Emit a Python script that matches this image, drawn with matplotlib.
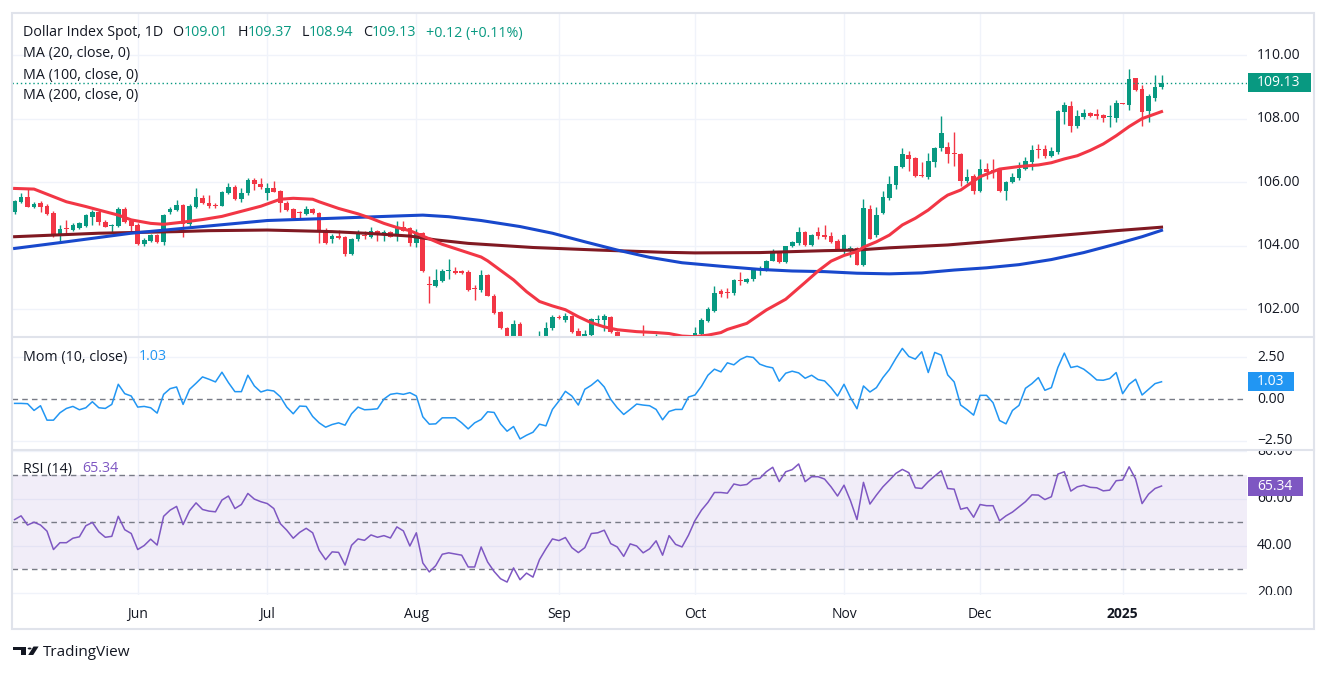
import matplotlib
matplotlib.use("Agg")
import matplotlib.pyplot as plt
from matplotlib.patches import Rectangle, Polygon, Circle
import numpy as np
import pandas as pd

plt.rcParams["font.family"] = ["Open Sans", "DejaVu Sans"]

# ---- Dollar Index Spot, daily bars ----
first_day = "2024-05-07"
last_day = "2025-01-09"

opens = [
    105.07, 105.38, 105.54, 105.23, 105.33, 105.25, 105.04, 104.31, 104.53, 104.49,
    104.56, 104.63, 104.91, 105.07, 104.75, 104.63, 104.63, 105.15, 104.79, 104.65,
    104.05, 104.14, 104.33, 104.12, 105.07, 105.12, 105.28, 104.67, 105.23, 105.51,
    105.33, 105.28, 105.26, 105.67, 105.86, 105.47, 105.65, 106.07, 105.95, 105.67,
    105.80, 105.72, 105.35, 105.14, 105.07, 104.99, 105.14, 105.02, 104.44, 104.20,
    104.30, 104.27, 103.74, 104.20, 104.34, 104.28, 104.46, 104.39, 104.42, 104.30,
    104.58, 104.54, 104.07, 104.39, 102.80, 102.74, 102.89, 103.20, 103.21, 103.19,
    103.18, 102.63, 102.60, 103.07, 102.42, 101.90, 101.40, 101.10, 101.53, 100.70,
    100.85, 100.55, 101.10, 101.39, 101.73, 101.66, 101.78, 101.31, 101.10, 101.18,
    101.67, 101.66, 101.74, 101.29, 101.10, 100.79, 100.95, 100.90, 100.72, 100.78,
    101.00, 100.45, 100.95, 100.60, 100.42, 100.80, 101.21, 101.63, 101.95, 102.57,
    102.53, 102.50, 102.91, 102.86, 102.94, 103.28, 103.23, 103.53, 103.81, 103.49,
    104.00, 104.07, 104.42, 104.02, 104.42, 104.33, 104.30, 104.14, 103.88, 103.89,
    103.91, 103.39, 105.15, 104.33, 105.02, 105.49, 105.91, 106.49, 106.85, 106.75,
    106.21, 106.17, 106.64, 107.06, 107.11, 106.93, 106.88, 106.04, 106.19, 105.72,
    106.41, 106.38, 106.39, 105.72, 106.01, 106.14, 106.40, 106.64, 107.03, 107.03,
    106.83, 106.96, 108.22, 108.40, 107.78, 108.06, 108.17, 108.15, 108.11, 108.04,
    108.03, 108.48, 108.43, 109.27, 108.93, 108.24, 108.66, 109.01,
]
highs = [
    105.45, 105.65, 105.80, 105.38, 105.40, 105.30, 105.10, 104.65, 104.80, 104.70,
    104.74, 105.00, 105.12, 105.12, 104.80, 104.68, 105.20, 105.21, 104.82, 104.70,
    104.25, 104.38, 104.38, 105.00, 105.20, 105.44, 105.32, 105.30, 105.80, 105.58,
    105.59, 105.33, 105.72, 105.96, 105.90, 105.80, 106.13, 106.12, 106.12, 105.98,
    106.05, 105.75, 105.40, 105.18, 105.08, 105.25, 105.18, 105.05, 104.54, 104.38,
    104.49, 104.30, 104.25, 104.48, 104.46, 104.57, 104.50, 104.49, 104.46, 104.78,
    104.79, 104.57, 104.51, 104.44, 103.04, 103.26, 103.25, 103.57, 103.34, 103.22,
    103.22, 102.76, 103.24, 103.10, 102.48, 101.95, 101.45, 101.66, 101.58, 100.95,
    100.95, 101.30, 101.58, 101.80, 101.80, 101.87, 101.82, 101.42, 101.34, 101.73,
    101.81, 101.85, 101.78, 101.32, 101.15, 101.05, 101.05, 101.50, 100.85, 101.22,
    101.05, 101.00, 101.00, 100.70, 100.85, 101.43, 101.73, 102.07, 102.73, 102.63,
    102.65, 102.95, 103.18, 102.98, 103.30, 103.37, 103.56, 103.89, 103.84, 104.00,
    104.14, 104.59, 104.46, 104.38, 104.59, 104.65, 104.44, 104.22, 104.35, 103.99,
    103.95, 105.47, 105.28, 105.21, 105.73, 106.19, 106.52, 107.08, 106.99, 106.79,
    106.64, 106.93, 107.10, 108.07, 107.25, 107.59, 106.92, 106.41, 106.24, 106.72,
    106.59, 106.73, 106.42, 106.05, 106.28, 106.64, 106.80, 107.17, 107.20, 107.17,
    107.11, 108.26, 108.51, 108.55, 108.27, 108.30, 108.20, 108.30, 108.15, 108.43,
    108.58, 108.50, 109.56, 109.29, 109.06, 108.76, 109.37, 109.37,
]
lows = [
    105.00, 105.35, 105.20, 105.17, 105.07, 104.95, 104.28, 104.12, 104.39, 104.45,
    104.52, 104.60, 104.65, 104.65, 104.58, 104.39, 104.60, 104.70, 104.39, 104.02,
    103.98, 104.10, 104.08, 104.02, 105.00, 105.10, 104.28, 104.62, 105.18, 105.30,
    105.17, 105.18, 105.24, 105.62, 105.45, 105.38, 105.60, 105.75, 105.77, 105.44,
    105.68, 105.07, 105.08, 104.86, 104.83, 104.95, 105.00, 104.09, 104.06, 104.07,
    104.20, 103.66, 103.69, 104.15, 104.20, 104.25, 104.13, 104.15, 104.26, 104.15,
    104.45, 103.98, 103.97, 103.18, 102.20, 102.70, 102.85, 102.95, 103.10, 103.10,
    102.58, 102.29, 102.55, 102.40, 101.85, 101.38, 100.95, 101.05, 100.60, 100.55,
    100.45, 100.50, 101.00, 101.33, 101.68, 101.60, 101.25, 100.95, 100.90, 101.10,
    101.52, 101.32, 101.25, 100.98, 100.70, 100.70, 100.22, 100.50, 100.40, 100.70,
    100.35, 100.40, 100.50, 100.18, 100.15, 100.70, 101.15, 101.60, 101.90, 102.39,
    102.34, 102.45, 102.76, 102.82, 102.90, 103.07, 103.19, 103.50, 103.45, 103.46,
    103.96, 104.03, 104.00, 103.99, 104.20, 104.22, 104.08, 103.86, 103.70, 103.65,
    103.38, 103.36, 104.20, 104.28, 104.98, 105.45, 105.77, 106.44, 106.36, 106.16,
    106.15, 106.10, 106.48, 106.98, 106.61, 106.52, 105.88, 105.98, 105.63, 105.70,
    106.10, 106.12, 105.70, 105.45, 105.98, 106.08, 106.37, 106.38, 106.75, 106.77,
    106.80, 106.90, 107.83, 107.59, 107.71, 108.00, 108.05, 108.00, 107.88, 107.75,
    107.88, 108.46, 108.27, 108.88, 107.78, 107.90, 108.55, 108.94,
]
closes = [
    105.40, 105.53, 105.23, 105.31, 105.23, 104.99, 104.31, 104.51, 104.51, 104.65,
    104.70, 104.96, 105.07, 104.75, 104.60, 104.65, 105.15, 104.75, 104.63, 104.05,
    104.18, 104.33, 104.12, 104.96, 105.14, 105.28, 104.67, 105.26, 105.54, 105.33,
    105.26, 105.26, 105.68, 105.86, 105.47, 105.65, 106.07, 105.93, 105.86, 105.80,
    105.70, 105.35, 105.12, 104.88, 105.04, 105.14, 105.02, 104.42, 104.09, 104.30,
    104.25, 103.74, 104.21, 104.39, 104.31, 104.46, 104.34, 104.44, 104.28, 104.58,
    104.47, 104.07, 104.39, 103.20, 102.77, 102.92, 103.20, 103.22, 103.15, 103.15,
    102.60, 102.62, 103.07, 102.42, 101.87, 101.39, 101.10, 101.53, 100.72, 100.85,
    100.55, 101.10, 101.41, 101.76, 101.71, 101.78, 101.29, 101.10, 101.22, 101.69,
    101.70, 101.78, 101.29, 101.10, 100.79, 100.98, 100.90, 100.72, 100.78, 101.00,
    100.45, 100.95, 100.60, 100.42, 100.78, 101.24, 101.66, 101.99, 102.50, 102.48,
    102.50, 102.92, 102.87, 102.94, 103.28, 103.30, 103.53, 103.81, 103.47, 103.99,
    104.12, 104.42, 104.02, 104.33, 104.31, 104.28, 104.12, 103.88, 104.33, 103.92,
    103.39, 105.17, 104.21, 104.96, 105.52, 105.93, 106.51, 106.88, 106.73, 106.19,
    106.19, 106.66, 107.06, 107.56, 106.87, 106.87, 106.05, 106.17, 105.72, 106.41,
    106.33, 106.35, 105.72, 106.01, 106.15, 106.41, 106.66, 107.01, 107.00, 106.83,
    106.98, 108.24, 108.43, 107.78, 108.08, 108.19, 108.08, 108.08, 108.01, 108.06,
    108.48, 108.47, 109.25, 108.90, 108.22, 108.71, 109.01, 109.13,
]

# moving averages, read at bar indices
ma20_idx = [0, 3, 5, 8, 11, 13, 16, 18, 21, 23, 26, 29, 32, 35, 38, 41, 43, 46, 47,
            50, 53, 55, 57, 59, 61, 63, 66, 69, 72, 73, 75, 77, 79, 81, 83, 85, 87,
            89, 91, 93, 96, 99, 101, 103, 105, 107, 109, 110, 113, 116, 119, 122,
            124, 126, 128, 130, 131, 133, 135, 137, 139, 141, 143, 144, 146, 149,
            152, 155, 158, 160, 162, 164, 166, 168, 170, 172, 174, 177]
ma20_val = [105.80, 105.78, 105.62, 105.38, 105.23, 105.12, 104.96, 104.81, 104.70,
            104.67, 104.74, 104.82, 104.92, 105.08, 105.24, 105.46, 105.49, 105.46,
            105.38, 105.17, 105.00, 104.86, 104.70, 104.57, 104.47, 104.30, 104.04,
            103.84, 103.64, 103.52, 103.22, 102.92, 102.55, 102.24, 102.10, 101.98,
            101.76, 101.57, 101.44, 101.35, 101.29, 101.26, 101.23, 101.15, 101.13,
            101.18, 101.26, 101.36, 101.55, 101.97, 102.31, 102.84, 103.20, 103.51,
            103.69, 103.81, 103.95, 104.12, 104.33, 104.65, 104.86, 105.12, 105.45,
            105.59, 105.75, 106.17, 106.41, 106.49, 106.54, 106.61, 106.73, 106.83,
            107.00, 107.20, 107.46, 107.75, 108.00, 108.22]
ma100_idx = [0, 8, 18, 29, 39, 49, 60, 63, 67, 72, 78, 83, 88, 93, 98, 103, 109, 115,
             120, 125, 130, 135, 140, 145, 150, 155, 160, 165, 170, 174, 177]
ma100_val = [103.91, 104.12, 104.39, 104.60, 104.79, 104.86, 104.94, 104.96, 104.91,
             104.79, 104.60, 104.39, 104.12, 103.86, 103.63, 103.46, 103.35, 103.25,
             103.20, 103.18, 103.13, 103.11, 103.14, 103.23, 103.30, 103.40, 103.56,
             103.78, 104.05, 104.28, 104.48]
ma200_idx = [0, 13, 25, 30, 39, 49, 55, 61, 65, 70, 80, 90, 100, 105, 115, 125, 130,
             135, 144, 150, 157, 163, 170, 177]
ma200_val = [104.28, 104.39, 104.44, 104.47, 104.49, 104.44, 104.38, 104.30, 104.18,
             104.07, 103.94, 103.86, 103.79, 103.77, 103.78, 103.84, 103.86, 103.93,
             104.02, 104.12, 104.25, 104.35, 104.47, 104.58]

mom10 = [
    -0.26, -0.26, -0.28, -0.68, -0.40, -1.26, -1.26, -0.82, -0.56, -0.44,
    -0.64, -0.52, -0.16, -0.52, -0.56, -0.32, 0.88, 0.32, 0.18, -0.48,
    -0.44, -0.52, -0.84, 0.28, 0.62, 0.72, -0.32, 0.58, 0.94, 1.32,
    1.18, 1.02, 1.60, 0.98, 0.44, 0.44, 1.42, 0.78, 0.42, 0.54,
    0.48, 0.14, -0.48, -0.88, -0.42, -0.44, -1.04, -1.42, -1.68, -1.52,
    -1.42, -1.56, -0.88, -0.48, -0.64, -0.62, -0.58, 0.00, 0.28, 0.34,
    0.28, 0.38, 0.18, -1.06, -1.50, -1.48, -1.12, -1.12, -1.12, -1.42,
    -1.78, -1.42, -1.22, -0.76, -0.80, -1.48, -1.92, -1.64, -2.38, -2.16,
    -1.98, -1.50, -1.60, -0.62, -0.12, 0.46, 0.18, -0.36, 0.58, 0.82,
    1.14, 0.72, -0.02, -0.52, -0.92, -0.62, -0.30, -0.36, -0.40, -0.62,
    -1.24, -0.74, -0.62, -0.62, 0.12, 0.24, 0.76, 1.42, 1.78, 1.62,
    2.16, 2.04, 2.36, 2.54, 2.48, 2.08, 1.94, 1.86, 1.06, 1.54,
    1.66, 1.56, 1.24, 1.42, 1.16, 1.08, 0.68, 0.18, 0.88, 0.08,
    -0.58, 0.78, 0.42, 0.68, 1.28, 1.76, 2.42, 3.02, 2.54, 2.38,
    2.82, 1.58, 2.78, 2.62, 1.44, 1.02, -0.36, -0.64, -0.96, 0.22,
    0.22, -0.22, -1.28, -1.48, -0.68, -0.38, 0.64, 0.92, 1.28, 0.52,
    0.68, 1.88, 2.74, 1.88, 1.96, 1.78, 1.48, 1.14, 1.12, 1.22,
    1.58, 0.32, 0.88, 1.18, 0.24, 0.58, 0.92, 1.03,
]
rsi14 = [
    51.1, 52.7, 48.8, 50.0, 48.8, 46.2, 38.4, 41.3, 41.3, 43.2,
    43.8, 48.5, 49.9, 45.9, 43.6, 44.0, 52.5, 46.8, 45.2, 38.4,
    40.1, 42.8, 40.3, 52.5, 55.1, 56.7, 49.0, 54.8, 58.2, 55.4,
    54.7, 54.4, 59.4, 61.1, 55.8, 57.5, 62.2, 59.8, 58.7, 57.9,
    55.8, 49.4, 46.6, 43.2, 45.7, 47.4, 45.5, 38.1, 34.1, 37.4,
    37.2, 31.8, 40.2, 42.9, 42.3, 44.6, 43.6, 44.3, 43.3, 48.0,
    46.3, 39.9, 45.5, 32.7, 28.9, 31.6, 36.4, 37.0, 36.5, 36.0,
    31.0, 31.0, 39.5, 33.1, 29.1, 26.0, 24.6, 30.6, 25.6, 28.4,
    26.7, 34.1, 38.7, 42.9, 42.2, 43.5, 39.2, 37.1, 39.2, 45.2,
    45.5, 46.6, 40.9, 39.5, 35.5, 40.8, 39.9, 37.0, 38.7, 42.1,
    36.0, 44.3, 40.6, 39.5, 44.5, 50.7, 55.1, 58.4, 62.6, 62.6,
    62.3, 66.2, 65.6, 66.0, 68.3, 68.6, 71.4, 73.3, 67.2, 71.4,
    72.3, 74.7, 67.2, 69.3, 69.3, 68.3, 65.0, 61.1, 65.7, 59.1,
    51.1, 66.9, 57.7, 61.5, 65.0, 67.8, 70.7, 72.4, 71.0, 64.6,
    64.3, 67.2, 69.6, 71.8, 64.3, 64.0, 55.5, 56.2, 52.1, 57.5,
    57.0, 57.0, 50.6, 52.7, 54.3, 56.5, 58.7, 61.6, 61.5, 59.6,
    60.8, 70.4, 71.4, 63.2, 65.0, 65.7, 64.8, 64.6, 63.3, 63.6,
    67.6, 67.9, 73.5, 68.3, 57.9, 61.9, 64.3, 65.34,
]

price_ticks = [110, 108, 106, 104, 102]
mom_ticks = [2.5, -2.5]
rsi_ticks = [80, 60, 40, 20]
rsi_levels = [70, 50, 30]

GREEN = "#089981"
RED = "#F23645"
TEXT = "#131722"
GRID = "#F0F3FA"
BORDER = "#E0E3EB"
DASH = "#787B86"
MOM_C = "#2196F3"
RSI_C = "#7E57C2"

W, H = 1327, 674
fig = plt.figure(figsize=(W / 100, H / 100), dpi=100)


def rect(x0, y0, x1, y1):
    # pixel box (top-left origin) -> figure fraction
    return [x0 / W, 1 - y1 / H, (x1 - x0) / W, (y1 - y0) / H]


PLOT_L, PLOT_R, SCALE_R = 12, 1247, 1314
rows = {"main": (13, 337), "mom": (337, 450), "rsi": (450, 595)}
ylims = {"main": (101.121, 111.326), "mom": (-3.04, 3.70), "rsi": (19.11, 80.63)}
xlim = (-0.40, 190.19)

days = pd.bdate_range(first_day, last_day)
x = np.arange(len(closes))
month_pos = [i for i in range(1, len(days)) if days[i].month != days[i - 1].month]
month_lab = [str(days[i].year) if days[i].month == 1 else days[i].strftime("%b") for i in month_pos]

axes = {}
scales = {}
for name, (y0, y1) in rows.items():
    ax = fig.add_axes(rect(PLOT_L, y0, PLOT_R, y1))
    ax.set_xlim(xlim)
    ax.set_ylim(ylims[name])
    for s in ax.spines.values():
        s.set_visible(False)
    ax.tick_params(left=False, labelleft=False, bottom=False, labelbottom=False)
    for p in month_pos:
        ax.axvline(p, color=GRID, lw=1, zorder=0)
    axes[name] = ax
    sc = fig.add_axes(rect(PLOT_R, y0, SCALE_R, y1))
    sc.set_xlim(PLOT_R, SCALE_R)
    sc.set_ylim(ylims[name])
    sc.axis("off")
    scales[name] = sc

main, mom, rsi = axes["main"], axes["mom"], axes["rsi"]

# ---- price panel ----
for t in price_ticks:
    main.axhline(t, color=GRID, lw=1, zorder=0)
o = np.array(opens)
c = np.array(closes)
cols = np.where(c >= o, GREEN, RED)
main.vlines(x, lows, highs, colors=cols, lw=1, zorder=2)
main.bar(x, np.maximum(np.abs(c - o), 0.03), bottom=np.minimum(o, c), width=0.72,
         color=cols, lw=0, zorder=3)
main.plot(ma200_idx, ma200_val, color="#801922", lw=2.2, zorder=4)
main.plot(ma100_idx, ma100_val, color="#1848CC", lw=2.2, zorder=4)
main.plot(ma20_idx, ma20_val, color=RED, lw=2.2, zorder=5)
main.axhline(closes[-1], color=GREEN, lw=1, ls=(0, (1, 2)), zorder=6)

# ---- momentum panel ----
for t in mom_ticks:
    mom.axhline(t, color=GRID, lw=1, zorder=0)
mom.axhline(0, color=DASH, lw=1, ls=(0, (4, 3)), zorder=1)
mom.plot(x, mom10, color=MOM_C, lw=1.1, zorder=3)

# ---- RSI panel ----
for t in rsi_ticks:
    rsi.axhline(t, color=GRID, lw=1, zorder=0)
rsi.axhspan(rsi_levels[-1], rsi_levels[0], color=RSI_C, alpha=0.1, lw=0, zorder=1)
for t in rsi_levels:
    rsi.axhline(t, color=DASH, lw=1, ls=(0, (4, 3)), zorder=2)
rsi.plot(x, rsi14, color=RSI_C, lw=1.1, zorder=3)

rsi.set_xticks(month_pos)
rsi.set_xticklabels(month_lab, fontsize=10, color=TEXT)
rsi.tick_params(bottom=False, labelbottom=True, pad=5)
for lab in rsi.get_xticklabels():
    if lab.get_text().isdigit():
        lab.set_fontweight("bold")

# ---- right scale ----
def fmt(v):
    return f"{v:.2f}".replace("-", "\u2212")


for name, ticks in (("main", price_ticks), ("mom", mom_ticks + [0.0]), ("rsi", rsi_ticks)):
    for t in ticks:
        scales[name].text(1257, t, fmt(t), fontsize=10, color=TEXT, va="center",
                          ha="left", clip_on=True)


def value_tag(name, val, color, width):
    sc = scales[name]
    lo, hi = sc.get_ylim()
    hu = 19 * (hi - lo) / sc.bbox.height
    sc.add_patch(Rectangle((PLOT_R + 1, val - hu / 2), width, hu, color=color,
                           lw=0, clip_on=False, zorder=5))
    sc.text(1257, val, fmt(val), fontsize=10, color="white", va="center", ha="left",
            zorder=6)


value_tag("main", closes[-1], GREEN, 63)
value_tag("mom", mom10[-1], MOM_C, 46)
value_tag("rsi", rsi14[-1], RSI_C, 55)

# ---- borders ----
frame = Rectangle((PLOT_L / W, 1 - 629 / H), (SCALE_R - PLOT_L) / W, (629 - 13) / H,
                  transform=fig.transFigure, fill=False, ec=BORDER, lw=1.5)
fig.add_artist(frame)
for yy in (337, 450):
    fig.add_artist(plt.Line2D([PLOT_L / W, SCALE_R / W], [1 - yy / H] * 2,
                              transform=fig.transFigure, color=BORDER, lw=1.5))

# ---- legends ----
renderer = fig.canvas.get_renderer()


def legend_line(y, parts, x0=23, size=10.3):
    xx = x0
    for txt, col, gap in parts:
        t = fig.text(xx / W, 1 - y / H, txt, color=col, fontsize=size, va="center",
                     ha="left", zorder=10)
        xx += t.get_window_extent(renderer).width + gap


chg = closes[-1] - closes[-2]
legend_line(33, [("Dollar Index Spot, 1D", TEXT, 9),
                 ("O", TEXT, 0), (f"{opens[-1]:.2f}", GREEN, 9.5),
                 ("H", TEXT, 0), (f"{highs[-1]:.2f}", GREEN, 9.5),
                 ("L", TEXT, 0), (f"{lows[-1]:.2f}", GREEN, 9.5),
                 ("C", TEXT, 0), (f"{closes[-1]:.2f}", GREEN, 9.5),
                 (f"{chg:+.2f} ({chg / closes[-2] * 100:+.2f}%)", GREEN, 0)])
legend_line(54, [("MA (20, close, 0)", TEXT, 0)])
legend_line(75, [("MA (100, close, 0)", TEXT, 0)])
legend_line(96, [("MA (200, close, 0)", TEXT, 0)])
legend_line(357, [("Mom (10, close)", TEXT, 11), (f"{mom10[-1]:.2f}", MOM_C, 0)])
legend_line(469, [("RSI (14)", TEXT, 10), (f"{rsi14[-1]:.2f}", RSI_C, 0)])

# ---- TradingView mark ----
def px(pts):
    return [(a / W, 1 - b / H) for a, b in pts]


fig.add_artist(Polygon(px([(13.3, 646.5), (26.5, 646.5), (26.5, 655), (21, 655),
                           (21, 650.1), (13.3, 650.1)]), closed=True,
                       transform=fig.transFigure, color=TEXT, lw=0))
fig.add_artist(Circle((29.6 / W, 1 - 648.5 / H), 1.9 / W, transform=fig.transFigure,
                      color=TEXT, lw=0))
fig.add_artist(Polygon(px([(33.5, 646.5), (38.6, 646.5), (33.2, 655), (28.2, 655)]),
                       closed=True, transform=fig.transFigure, color=TEXT, lw=0))
fig.text(43 / W, 1 - 652.5 / H, "TradingView", fontsize=11, color=TEXT, va="center",
         ha="left")

fig.savefig("out.png", dpi=100)
